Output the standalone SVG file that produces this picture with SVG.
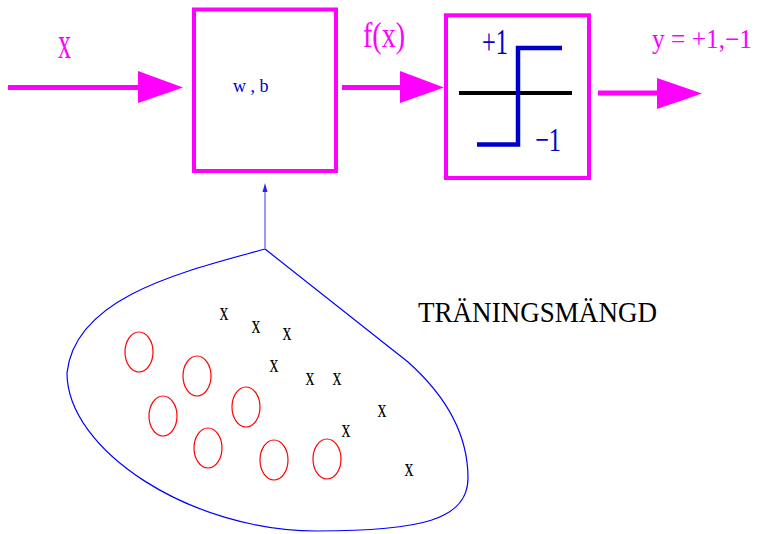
<svg xmlns="http://www.w3.org/2000/svg" width="760" height="534" viewBox="0 0 760 534" font-family="Liberation Serif, DejaVu Serif, serif">
<style>
.mg{fill:#ff00ff}
.bl{fill:#0000cc}
.bk{fill:#000}
.box{fill:#fff;stroke:#ff00ff;stroke-width:4}
.ar{stroke:#ff00ff;stroke-width:5;fill:none}
.ah{fill:#ff00ff}
.dot{fill:none;stroke:#ff0000;stroke-width:1.2}
.xm{fill:#000;font-size:25px;text-anchor:middle}
</style>
<rect width="760" height="534" fill="#fff"/>
<g id="connectors">
<line class="ar" x1="8" y1="87.5" x2="140" y2="87.5"/>
<polygon class="ah" points="138,71 183,87.5 138,103"/>
<line class="ar" x1="342" y1="87.5" x2="402" y2="87.5"/>
<polygon class="ah" points="400,71 444,87.5 400,103"/>
<line class="ar" x1="598" y1="93" x2="659" y2="93"/>
<polygon class="ah" points="657,78 702,93.5 657,109"/>
<line x1="265" y1="248" x2="265" y2="190" stroke="#3333ff" stroke-width="1"/>
<polygon points="265,183 262.5,192 267.5,192" fill="#2222ff"/>
</g>
<g id="input-label">
<text class="mg" x="58" y="58" font-size="46" textLength="13" lengthAdjust="spacingAndGlyphs" font-family="Liberation Serif">x</text>
</g>
<g id="neuron">
<rect class="box" x="194" y="9.5" width="142" height="161.5"/>
<text class="bl" x="233" y="92" font-size="18" font-family="Liberation Serif">w , b</text>
</g>
<g id="fx-label">
<text class="mg" x="363" y="47" font-size="36" textLength="42" lengthAdjust="spacingAndGlyphs" font-family="Liberation Serif">f(x)</text>
</g>
<g id="sign">
<rect class="box" x="446" y="15.3" width="143" height="162.7"/>
<line x1="459" y1="93" x2="572" y2="93" stroke="#000" stroke-width="4"/>
<polyline points="477,144.5 518,144.5 518,48 562,48" fill="none" stroke="#0000cc" stroke-width="4.5"/>
<text class="bl" x="482" y="54" font-size="36" textLength="26" lengthAdjust="spacingAndGlyphs" font-family="Liberation Serif">+1</text>
<text class="bl" x="535" y="151" font-size="34" textLength="26" lengthAdjust="spacingAndGlyphs" font-family="Liberation Serif">−1</text>
</g>
<g id="output-label">
<text class="mg" x="652" y="48" font-size="27" textLength="100" lengthAdjust="spacingAndGlyphs" font-family="Liberation Serif">y = +1,−1</text>
</g>
<g id="training-set">
<path d="M265,249 C190,270 75,295 67,373 C67,450 190,531 317,531 C420,531 468,520 468,478 C468,432 445,395 408,362 L265,249 Z" fill="none" stroke="#0000ff" stroke-width="1.2"/>
<ellipse class="dot" cx="139" cy="352" rx="14" ry="20"/>
<ellipse class="dot" cx="197" cy="376" rx="14" ry="20"/>
<ellipse class="dot" cx="163" cy="416" rx="14" ry="20"/>
<ellipse class="dot" cx="246" cy="407" rx="14" ry="20"/>
<ellipse class="dot" cx="208" cy="448" rx="14" ry="20"/>
<ellipse class="dot" cx="274" cy="460" rx="14" ry="20"/>
<ellipse class="dot" cx="327" cy="459" rx="14" ry="20"/>
<text class="xm" x="224" y="320" textLength="9" lengthAdjust="spacingAndGlyphs">x</text>
<text class="xm" x="256" y="333" textLength="9" lengthAdjust="spacingAndGlyphs">x</text>
<text class="xm" x="287" y="340" textLength="9" lengthAdjust="spacingAndGlyphs">x</text>
<text class="xm" x="274" y="372" textLength="9" lengthAdjust="spacingAndGlyphs">x</text>
<text class="xm" x="310" y="385" textLength="9" lengthAdjust="spacingAndGlyphs">x</text>
<text class="xm" x="337" y="385" textLength="9" lengthAdjust="spacingAndGlyphs">x</text>
<text class="xm" x="382" y="417" textLength="9" lengthAdjust="spacingAndGlyphs">x</text>
<text class="xm" x="346" y="437" textLength="9" lengthAdjust="spacingAndGlyphs">x</text>
<text class="xm" x="409" y="476" textLength="9" lengthAdjust="spacingAndGlyphs">x</text>
</g>
<g id="training-label">
<text class="bk" x="418" y="322" font-size="30" textLength="239" lengthAdjust="spacingAndGlyphs" font-family="Liberation Serif">TRÄNINGSMÄNGD</text>
</g>
</svg>
